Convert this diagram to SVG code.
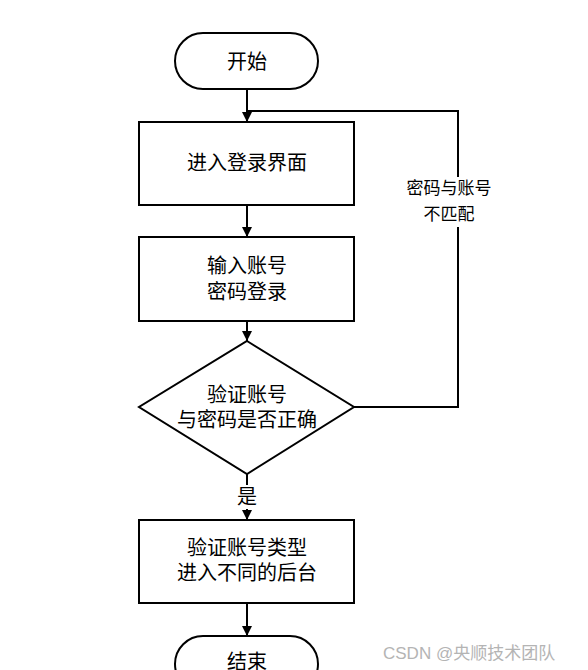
<svg xmlns="http://www.w3.org/2000/svg" width="588" height="670" viewBox="0 0 588 670">
<defs>
<marker id="arr" viewBox="0 0 10 10" refX="10" refY="5" markerWidth="5" markerHeight="5" orient="auto" markerUnits="strokeWidth">
<path d="M0,0 L10,5 L0,10 z" fill="#000"/>
</marker>
<style>
.shape{fill:#fff;stroke:#000;stroke-width:2}
.t{font-family:"Liberation Serif","Noto Sans CJK SC",serif;font-size:20px;fill:#000;text-anchor:middle}
.s{font-family:"Liberation Serif","Noto Sans CJK SC",serif;font-size:17px;fill:#000;text-anchor:middle}
.c{fill:none;stroke:#000;stroke-width:2}
</style>
</defs>
<rect width="588" height="670" fill="#fff"/>
<g id="connectors">
<line class="c" x1="247" y1="89" x2="247" y2="122" marker-end="url(#arr)"/>
<line class="c" x1="247" y1="205" x2="247" y2="237" marker-end="url(#arr)"/>
<line class="c" x1="247" y1="321" x2="247" y2="341" marker-end="url(#arr)"/>
<line class="c" x1="247" y1="474" x2="247" y2="520" marker-end="url(#arr)"/>
<line class="c" x1="247" y1="603" x2="247" y2="636" marker-end="url(#arr)"/>
<polyline class="c" points="354,407 458,407 458,111 247,111"/>
<rect x="400" y="177" width="98" height="50" fill="#fff"/>
<text class="s" x="449" y="194">密码与账号</text>
<text class="s" x="449" y="220">不匹配</text>
<rect x="236" y="485" width="22" height="24" fill="#fff"/>
<text class="t" x="247" y="504">是</text>
</g>
<g id="start">
<rect class="shape" x="175" y="33" width="143" height="56" rx="28" ry="28"/>
<text class="t" x="247" y="69">开始</text>
</g>
<g id="login-page">
<rect class="shape" x="139" y="122" width="215" height="83"/>
<text class="t" x="247" y="170">进入登录界面</text>
</g>
<g id="input">
<rect class="shape" x="139" y="237" width="215" height="84"/>
<text class="t" x="247" y="273">输入账号</text>
<text class="t" x="247" y="299">密码登录</text>
</g>
<g id="check">
<polygon class="shape" points="247,341 354,407 247,474 139,407"/>
<text class="t" x="247" y="402">验证账号</text>
<text class="t" x="247" y="427">与密码是否正确</text>
</g>
<g id="type">
<rect class="shape" x="139" y="520" width="215" height="83"/>
<text class="t" x="247" y="555">验证账号类型</text>
<text class="t" x="247" y="580">进入不同的后台</text>
</g>
<g id="end">
<rect class="shape" x="175" y="636" width="143" height="56" rx="28" ry="28"/>
<text class="t" x="247" y="669">结束</text>
</g>
<text x="383" y="659" style="font-family:'Liberation Sans','Noto Sans CJK SC',sans-serif;font-size:17px;fill:#b4b4b4">CSDN @央顺技术团队</text>
</svg>
